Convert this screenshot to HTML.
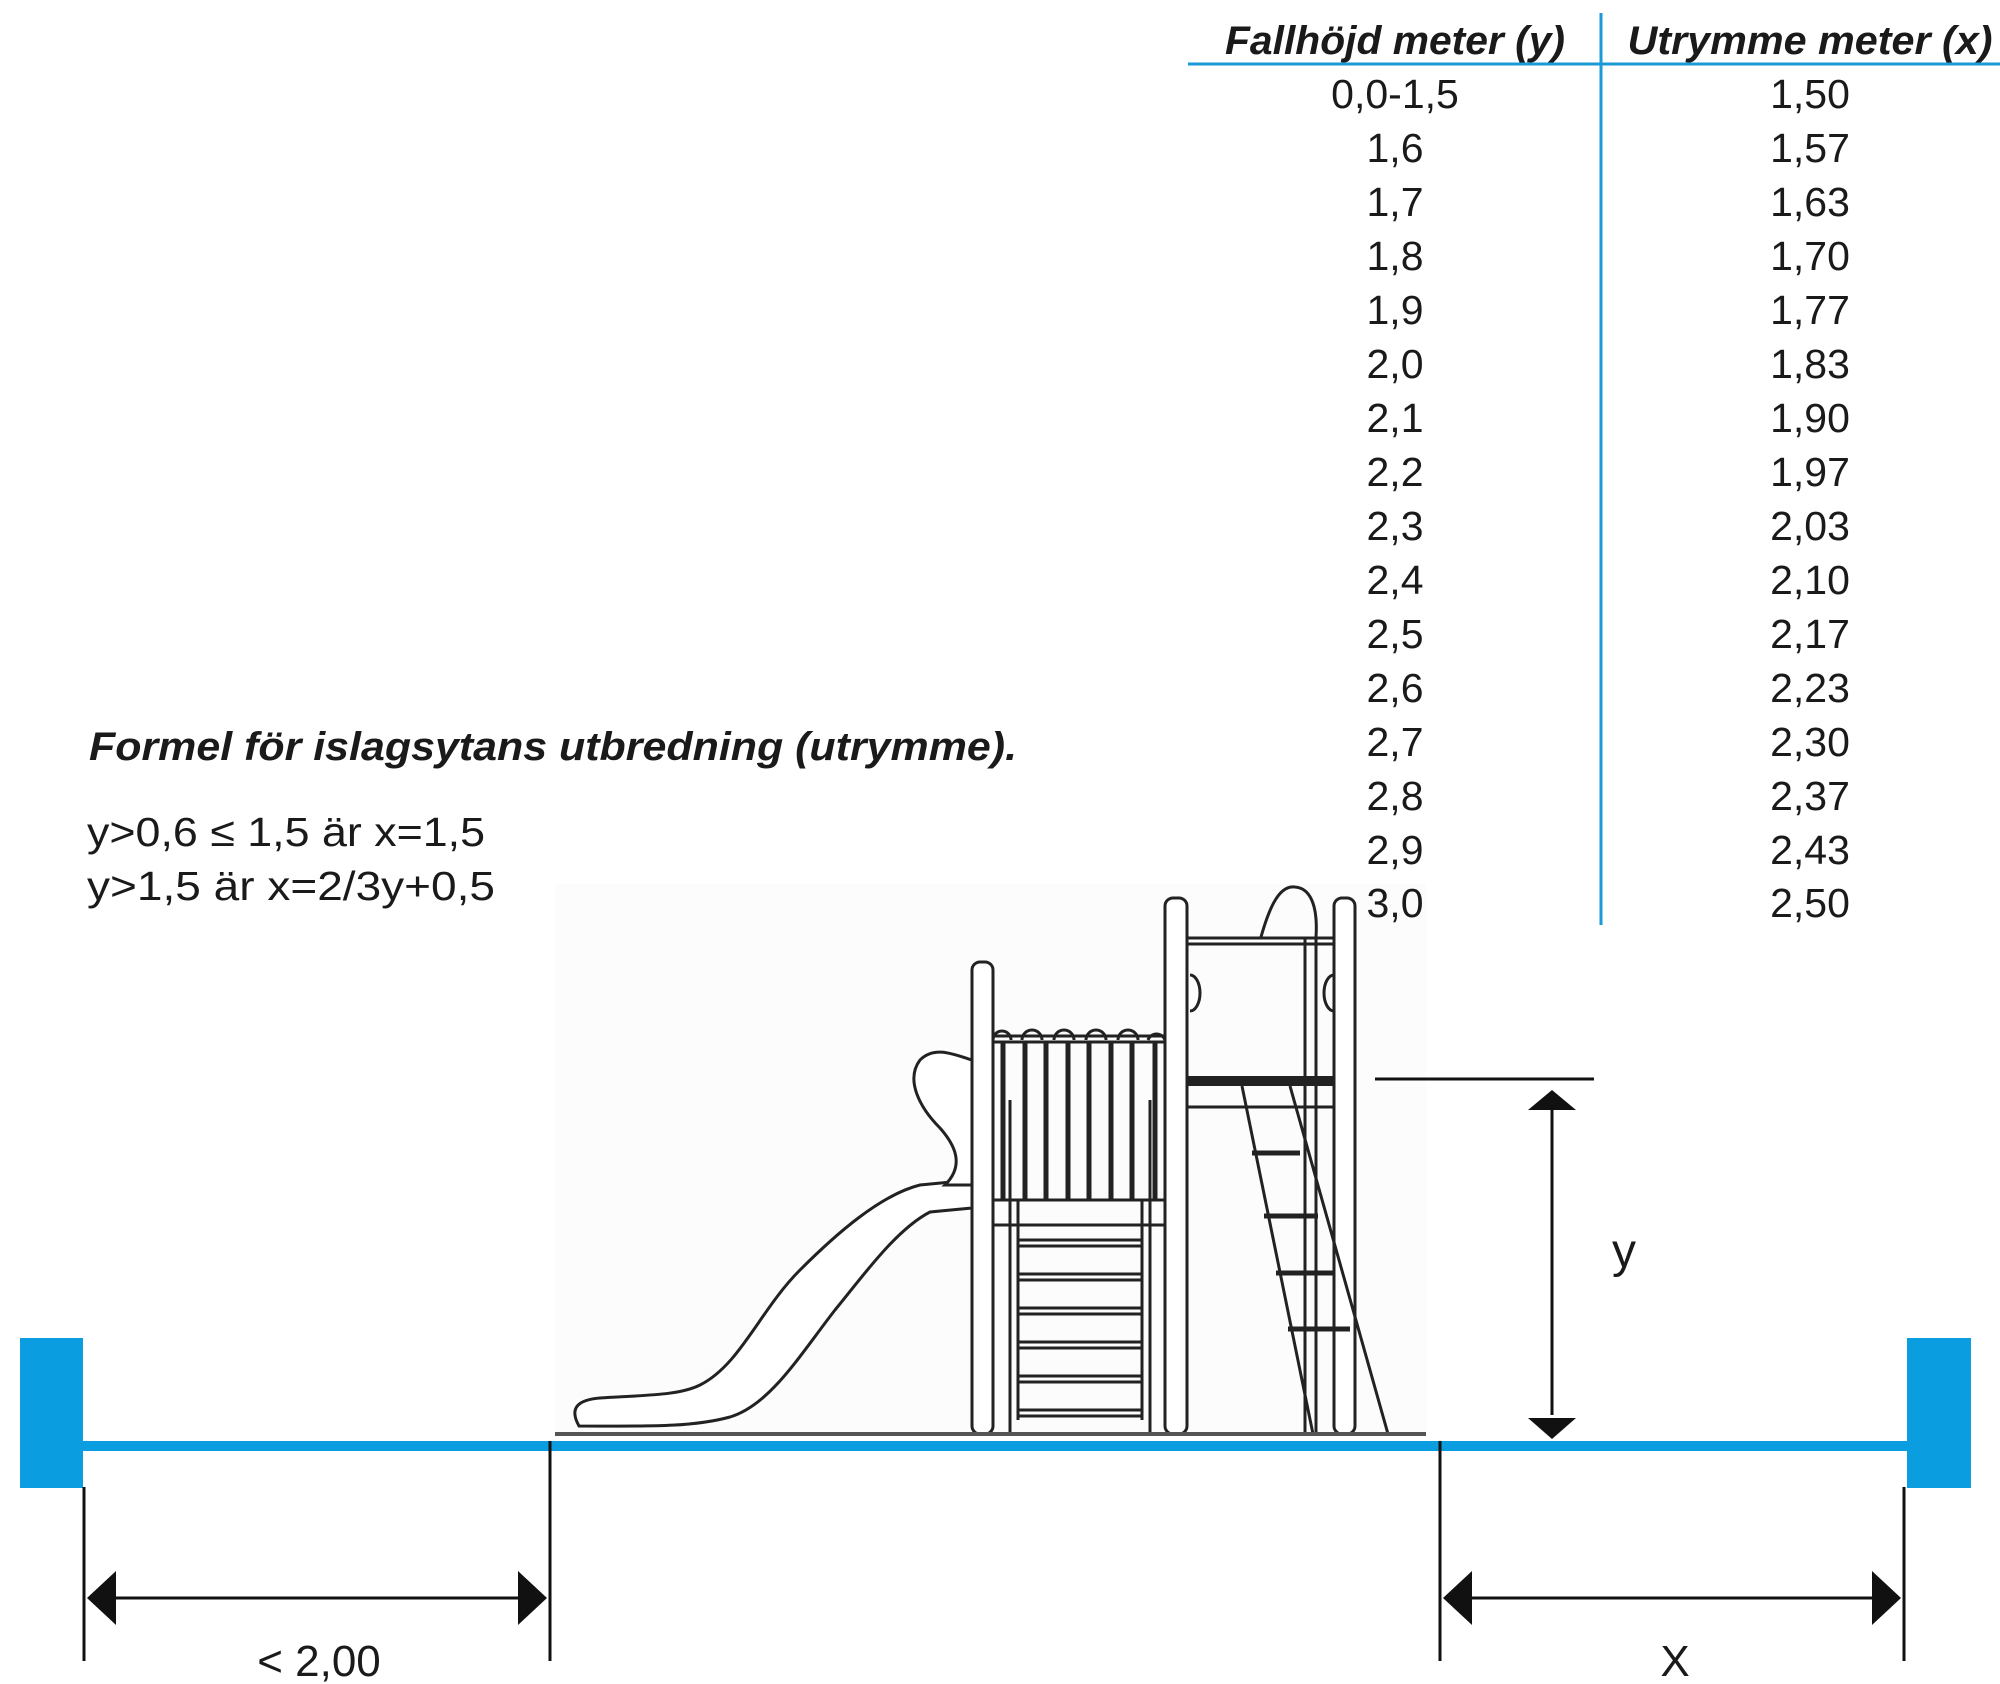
<!DOCTYPE html>
<html><head><meta charset="utf-8"><style>
html,body{margin:0;padding:0;background:#fff;}
svg{display:block;}
text{font-family:"Liberation Sans",sans-serif;fill:#1a1a1a;}
.h{font-weight:bold;font-style:italic;font-size:40px;}
.r{font-size:41px;}
</style></head><body>
<svg width="2000" height="1684" viewBox="0 0 2000 1684" xmlns="http://www.w3.org/2000/svg">
<rect width="2000" height="1684" fill="#fff"/>
<rect x="555" y="884" width="871" height="550" fill="#fcfcfc"/>
<!-- table -->
<line x1="1188" y1="64" x2="2000" y2="64" stroke="#1a9ad6" stroke-width="3"/>
<line x1="1601" y1="13" x2="1601" y2="925" stroke="#1a9ad6" stroke-width="3"/>
<text class="h" x="1395" y="54" text-anchor="middle" textLength="340" lengthAdjust="spacingAndGlyphs">Fallhöjd meter (y)</text>
<text class="h" x="1810" y="54" text-anchor="middle" textLength="365" lengthAdjust="spacingAndGlyphs">Utrymme meter (x)</text>
<g text-anchor="middle">
<text class="r" x="1395" y="108">0,0-1,5</text><text class="r" x="1810" y="108">1,50</text>
<text class="r" x="1395" y="162">1,6</text><text class="r" x="1810" y="162">1,57</text>
<text class="r" x="1395" y="216">1,7</text><text class="r" x="1810" y="216">1,63</text>
<text class="r" x="1395" y="270">1,8</text><text class="r" x="1810" y="270">1,70</text>
<text class="r" x="1395" y="324">1,9</text><text class="r" x="1810" y="324">1,77</text>
<text class="r" x="1395" y="378">2,0</text><text class="r" x="1810" y="378">1,83</text>
<text class="r" x="1395" y="432">2,1</text><text class="r" x="1810" y="432">1,90</text>
<text class="r" x="1395" y="486">2,2</text><text class="r" x="1810" y="486">1,97</text>
<text class="r" x="1395" y="540">2,3</text><text class="r" x="1810" y="540">2,03</text>
<text class="r" x="1395" y="594">2,4</text><text class="r" x="1810" y="594">2,10</text>
<text class="r" x="1395" y="648">2,5</text><text class="r" x="1810" y="648">2,17</text>
<text class="r" x="1395" y="702">2,6</text><text class="r" x="1810" y="702">2,23</text>
<text class="r" x="1395" y="756">2,7</text><text class="r" x="1810" y="756">2,30</text>
<text class="r" x="1395" y="810">2,8</text><text class="r" x="1810" y="810">2,37</text>
<text class="r" x="1395" y="864">2,9</text><text class="r" x="1810" y="864">2,43</text>
<text class="r" x="1395" y="917">3,0</text><text class="r" x="1810" y="917">2,50</text>
</g>
<!-- formula -->
<text class="h" x="89" y="760" textLength="928" lengthAdjust="spacingAndGlyphs">Formel för islagsytans utbredning (utrymme).</text>
<text class="r" x="87" y="846" textLength="398" lengthAdjust="spacingAndGlyphs">y&gt;0,6 ≤ 1,5 är x=1,5</text>
<text class="r" x="87" y="900" textLength="408" lengthAdjust="spacingAndGlyphs">y&gt;1,5 är x=2/3y+0,5</text>
<!-- playground -->
<g fill="#fff" stroke="#222" stroke-width="3">
<path d="M579,1426 C570,1410 575,1400 600,1398 C650,1395 680,1395 700,1385 C740,1365 760,1310 800,1270 C835,1235 880,1195 920,1185 L972,1180 L972,1208 L930,1212 C895,1230 860,1280 835,1310 C800,1355 770,1405 730,1417 C690,1428 640,1426 579,1426 Z"/>
<path d="M945,1185 C965,1165 955,1145 940,1128 C920,1108 905,1080 920,1060 C935,1045 955,1055 972,1060 L972,1185 Z"/>
<rect x="972" y="962" width="21" height="472" rx="8"/>
<rect x="1165" y="898" width="22" height="536" rx="8"/>
<rect x="1334" y="898" width="21" height="536" rx="8"/>
<rect x="1187" y="938" width="147" height="6"/>
<path d="M1261,937 C1270,905 1280,885 1295,887 C1310,888 1318,905 1316,937" fill="none"/>
<path d="M1316,937 L1316,1434" fill="none"/>
<path d="M1305,937 L1305,1434" fill="none"/>
<path d="M1190,975 a10,18 0 0 1 0,36" fill="none"/>
<path d="M1334,975 a10,18 0 0 0 0,36" fill="none"/>
</g>
<rect x="1187" y="1076" width="147" height="10" fill="#222"/>
<line x1="1187" y1="1107" x2="1334" y2="1107" stroke="#222" stroke-width="3"/>
<g stroke="#222" stroke-width="3" fill="none">
<path d="M993,1040 a9,9 0 0 1 18,0 M1022,1040 a10,10 0 0 1 20,0 M1054,1040 a10,10 0 0 1 20,0 M1086,1040 a10,10 0 0 1 20,0 M1118,1040 a10,10 0 0 1 20,0 M1148,1040 a9,9 0 0 1 17,0"/>
<rect x="993" y="1036" width="172" height="6"/>
<line x1="993" y1="1200" x2="1165" y2="1200"/>
<line x1="993" y1="1225" x2="1165" y2="1225"/>
<line x1="1010" y1="1100" x2="1010" y2="1434"/>
<line x1="1150" y1="1100" x2="1150" y2="1434"/>
<line x1="1018" y1="1200" x2="1018" y2="1420"/>
<line x1="1142" y1="1200" x2="1142" y2="1420"/>
<line x1="1242" y1="1086" x2="1313" y2="1434"/>
<line x1="1290" y1="1086" x2="1388" y2="1434"/>
</g>
<g stroke="#222" stroke-width="5">
<line x1="1003" y1="1042" x2="1003" y2="1200"/><line x1="1025" y1="1042" x2="1025" y2="1200"/>
<line x1="1046" y1="1042" x2="1046" y2="1200"/><line x1="1068" y1="1042" x2="1068" y2="1200"/>
<line x1="1089" y1="1042" x2="1089" y2="1200"/><line x1="1111" y1="1042" x2="1111" y2="1200"/>
<line x1="1132" y1="1042" x2="1132" y2="1200"/><line x1="1155" y1="1042" x2="1155" y2="1200"/>
<line x1="1252" y1="1153" x2="1300" y2="1153"/><line x1="1264" y1="1216" x2="1318" y2="1216"/>
<line x1="1276" y1="1273" x2="1334" y2="1273"/><line x1="1288" y1="1329" x2="1350" y2="1329"/>
</g>
<g stroke="#222" stroke-width="3">
<line x1="1018" y1="1240" x2="1142" y2="1240"/><line x1="1018" y1="1246" x2="1142" y2="1246"/>
<line x1="1018" y1="1274" x2="1142" y2="1274"/><line x1="1018" y1="1280" x2="1142" y2="1280"/>
<line x1="1018" y1="1308" x2="1142" y2="1308"/><line x1="1018" y1="1314" x2="1142" y2="1314"/>
<line x1="1018" y1="1342" x2="1142" y2="1342"/><line x1="1018" y1="1348" x2="1142" y2="1348"/>
<line x1="1018" y1="1376" x2="1142" y2="1376"/><line x1="1018" y1="1382" x2="1142" y2="1382"/>
<line x1="1018" y1="1410" x2="1142" y2="1410"/><line x1="1018" y1="1416" x2="1142" y2="1416"/>
</g>
<rect x="555" y="1432" width="871" height="4" fill="#555"/>
<!-- blue base -->
<rect x="83" y="1441" width="1824" height="10" fill="#0a9de0"/>
<rect x="20" y="1338" width="63" height="150" fill="#0a9de0"/>
<rect x="1907" y="1338" width="64" height="150" fill="#0a9de0"/>
<!-- dimension lines -->
<g stroke="#111" stroke-width="3">
<line x1="84" y1="1487" x2="84" y2="1661"/>
<line x1="550" y1="1441" x2="550" y2="1661"/>
<line x1="1440" y1="1441" x2="1440" y2="1661"/>
<line x1="1904" y1="1487" x2="1904" y2="1661"/>
<line x1="110" y1="1598" x2="525" y2="1598"/>
<line x1="1466" y1="1598" x2="1878" y2="1598"/>
<line x1="1375" y1="1079" x2="1594" y2="1079"/>
<line x1="1552" y1="1105" x2="1552" y2="1415"/>
</g>
<g fill="#111">
<polygon points="87,1598 116,1571 116,1625"/>
<polygon points="547,1598 518,1571 518,1625"/>
<polygon points="1443,1598 1472,1571 1472,1625"/>
<polygon points="1901,1598 1872,1571 1872,1625"/>
<polygon points="1552,1090 1528,1110 1576,1110"/>
<polygon points="1552,1439 1528,1418 1576,1418"/>
</g>
<text x="319" y="1676" text-anchor="middle" font-size="44">&lt; 2,00</text>
<text x="1675" y="1676" text-anchor="middle" font-size="44">X</text>
<text x="1624" y="1267" text-anchor="middle" font-size="48">y</text>
</svg>
</body></html>
